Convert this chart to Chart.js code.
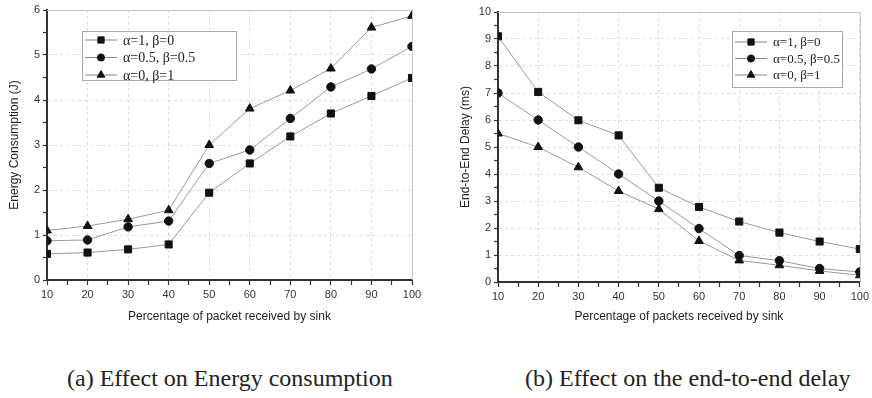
<!DOCTYPE html>
<html>
<head>
<meta charset="utf-8">
<script src="https://cdn.jsdelivr.net/npm/chart.js@4.4.0/dist/chart.umd.min.js"></script>
<style>
  body { margin: 0; width: 872px; height: 398px; background: #fff; position: relative; overflow: hidden; }
  .box { position: absolute; top: 0; }
  .caption { position: absolute; top: 365px; font-family: "Liberation Serif", "Times New Roman", serif; font-size: 24px; line-height: normal; color: #222; white-space: nowrap; }
</style>
</head>
<body>
<div class="box" style="left:0;width:440px;height:330px"><canvas id="energyChart"></canvas></div>
<div class="box" style="left:440px;width:432px;height:332px"><canvas id="delayChart"></canvas></div>
<div class="caption" style="left:67px">(a) Effect on Energy consumption</div>
<div class="caption" style="left:525px">(b) Effect on the end-to-end delay</div>
<script>
  // x values shared by both plots
  const packetPct = [10, 20, 30, 40, 50, 60, 70, 80, 90, 100];
  const seriesLabels = ['α=1, β=0', 'α=0.5, β=0.5', 'α=0, β=1'];

  // (a) energy consumption (J)
  const energyA1 = [0.58, 0.61, 0.68, 0.79, 1.94, 2.59, 3.19, 3.70, 4.09, 4.49];
  const energyA05 = [0.87, 0.89, 1.18, 1.31, 2.59, 2.89, 3.59, 4.29, 4.69, 5.19];
  const energyA0 = [1.10, 1.20, 1.35, 1.55, 3.00, 3.81, 4.21, 4.70, 5.61, 5.87];

  // (b) end-to-end delay (ms)
  const delayA1 = [9.10, 7.04, 5.99, 5.43, 3.49, 2.78, 2.24, 1.83, 1.50, 1.22];
  const delayA05 = [7.00, 6.00, 5.00, 4.00, 3.00, 1.98, 0.98, 0.79, 0.50, 0.37];
  const delayA0 = [5.50, 5.00, 4.25, 3.37, 2.70, 1.52, 0.80, 0.62, 0.41, 0.25];

  const markers = [
    { pointStyle: 'rect', radius: 5 },
    { pointStyle: 'circle', radius: 4.2 },
    { pointStyle: 'triangle', radius: 5 }
  ];

  function makeSets(seriesList) {
    return seriesList.map((vals, i) => ({
      label: seriesLabels[i],
      data: vals.map((v, j) => ({ x: packetPct[j], y: v })),
      borderColor: '#9a9a9a',
      borderWidth: 1,
      backgroundColor: '#111',
      pointBackgroundColor: '#111',
      pointBorderColor: '#111',
      pointBorderWidth: 1,
      pointStyle: markers[i].pointStyle,
      pointRadius: markers[i].radius,
      tension: 0
    }));
  }

  // light frame on top/right of plot area
  const framePlugin = {
    id: 'frame',
    beforeDatasetsDraw(chart) {
      const { ctx, chartArea: a } = chart;
      ctx.save();
      ctx.strokeStyle = '#c4c4c4';
      ctx.lineWidth = 1;
      ctx.beginPath();
      ctx.moveTo(a.left, a.top + 0.5);
      ctx.lineTo(a.right + 0.5, a.top + 0.5);
      ctx.lineTo(a.right + 0.5, a.bottom);
      ctx.stroke();
      ctx.restore();
    }
  };

  // legend box inside the plot
  const boxLegend = {
    id: 'boxLegend',
    afterDatasetsDraw(chart, args, opts) {
      const ctx = chart.ctx;
      ctx.save();
      ctx.fillStyle = '#fff';
      ctx.fillRect(opts.x, opts.y, opts.w, opts.h);
      ctx.strokeStyle = '#aaa';
      ctx.lineWidth = 1;
      ctx.strokeRect(opts.x + 0.5, opts.y + 0.5, opts.w, opts.h);
      chart.data.datasets.forEach((ds, i) => {
        const y = opts.rowY[i];
        const x0 = opts.x + 3;
        ctx.strokeStyle = '#888';
        ctx.lineWidth = 1;
        ctx.beginPath();
        ctx.moveTo(x0, y);
        ctx.lineTo(x0 + opts.lineLen, y);
        ctx.stroke();
        ctx.fillStyle = '#111';
        ctx.strokeStyle = '#111';
        Chart.helpers.drawPoint(ctx, {
          pointStyle: ds.pointStyle, radius: ds.pointRadius - 0.6, rotation: 0, borderWidth: 1
        }, x0 + opts.lineLen / 2, y);
        ctx.fillStyle = '#222';
        ctx.font = opts.font + 'px "Liberation Serif", "Times New Roman", serif';
        ctx.textBaseline = 'middle';
        ctx.fillText(ds.label, x0 + opts.lineLen + 6, y + 1);
      });
      ctx.restore();
    }
  };

  function makeOptions(cfg) {
    return {
      responsive: true,
      maintainAspectRatio: false,
      animation: false,
      layout: { padding: cfg.padding },
      plugins: {
        legend: { display: false },
        tooltip: { enabled: false },
        boxLegend: cfg.legend
      },
      scales: {
        x: {
          type: 'linear',
          min: 10,
          max: 100,
          afterFit(scale) { scale.height = 50; },
          ticks: {
            stepSize: 5,
            autoSkip: false,
            maxRotation: 0,
            padding: 3,
            color: '#333',
            font: { family: '"Liberation Sans", Arial, sans-serif', size: 11 },
            callback: v => (v % 10 === 0 ? v : '')
          },
          grid: {
            color: c => (c.tick && c.tick.value % 10 === 0 ? '#dedede' : 'transparent'),
            tickColor: '#333',
            tickLength: 5,
            tickWidth: 1.2
          },
          border: { color: '#333', width: 2, dash: [3, 3] },
          title: {
            display: true,
            text: cfg.xTitle,
            color: '#222',
            font: { family: '"Liberation Sans", Arial, sans-serif', size: 12 },
            padding: { top: 2, bottom: cfg.xTitlePad }
          }
        },
        y: {
          min: 0,
          max: cfg.yMax,
          afterFit(scale) { scale.width = cfg.yWidth; },
          ticks: {
            stepSize: 0.5,
            autoSkip: false,
            padding: 3,
            color: '#333',
            font: { family: '"Liberation Sans", Arial, sans-serif', size: 11 },
            callback: v => (Number.isInteger(v) ? v : '')
          },
          grid: {
            color: c => (c.tick && Number.isInteger(c.tick.value) ? '#dedede' : 'transparent'),
            tickColor: '#333',
            tickLength: 4,
            tickWidth: 1.2
          },
          border: { color: '#333', width: 2, dash: [3, 3] },
          title: {
            display: true,
            text: cfg.yTitle,
            color: '#222',
            font: { family: '"Liberation Sans", Arial, sans-serif', size: 12 },
            padding: { top: cfg.yTitlePad, bottom: 0 }
          }
        }
      }
    };
  }

  new Chart(document.getElementById('energyChart'), {
    type: 'line',
    data: { datasets: makeSets([energyA1, energyA05, energyA0]) },
    options: makeOptions({
      padding: { left: 0, right: 28, top: 10, bottom: 0 },
      yMax: 6,
      yWidth: 47,
      yTitle: 'Energy Consumption (J)',
      yTitlePad: 7,
      xTitle: 'Percentage of packet received by sink',
      xTitlePad: 6,
      legend: { x: 82, y: 31, w: 154, h: 49, rowY: [40, 57.5, 75], lineLen: 32, font: 14 }
    }),
    plugins: [framePlugin, boxLegend]
  });

  new Chart(document.getElementById('delayChart'), {
    type: 'line',
    data: { datasets: makeSets([delayA1, delayA05, delayA0]) },
    options: makeOptions({
      padding: { left: 0, right: 10, top: 12, bottom: 0 },
      yMax: 10,
      yWidth: 58,
      yTitle: 'End-to-End Delay (ms)',
      yTitlePad: 18,
      xTitle: 'Percentage of packets received by sink',
      xTitlePad: 8,
      legend: { x: 292, y: 31, w: 110, h: 56, rowY: [42, 58.5, 75], lineLen: 32, font: 13 }
    }),
    plugins: [framePlugin, boxLegend]
  });
</script>
</body>
</html>
